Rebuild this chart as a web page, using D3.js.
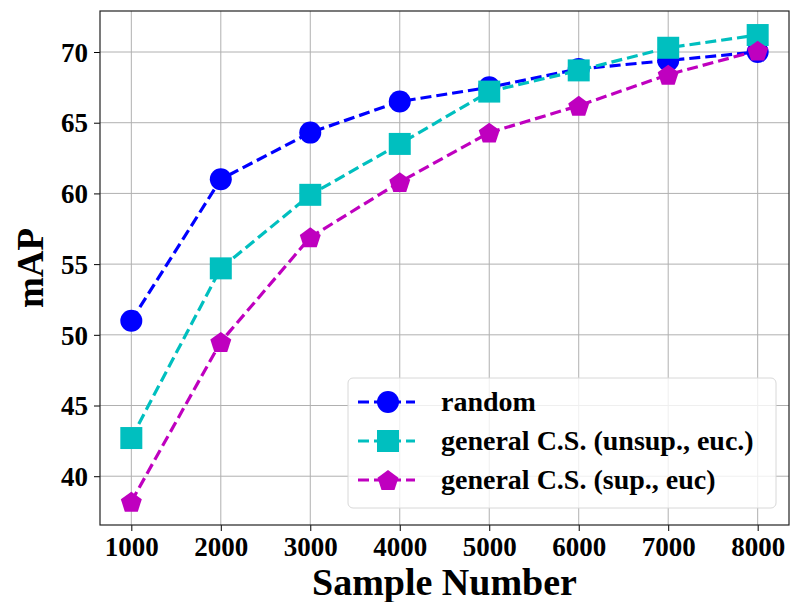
<!DOCTYPE html>
<html>
<head>
<meta charset="utf-8">
<script src="https://cdn.jsdelivr.net/npm/d3@7"></script>
<style>
  body { margin: 0; background: #fff; }
  svg text { font-family: 'Liberation Serif', 'Times New Roman', serif; font-weight: bold; }
</style>
</head>
<body>
<svg id="chart" width="791" height="602"></svg>
<script>
// sample counts on x axis
const samples = [1000, 2000, 3000, 4000, 5000, 6000, 7000, 8000]
// mAP per method
const randomMap = [51.0, 61.0, 64.3, 66.5, 67.5, 68.8, 69.4, 70.0]
const unsupMap = [42.7, 54.7, 59.9, 63.5, 67.2, 68.7, 70.3, 71.2]
const supMap = [38.2, 49.5, 56.9, 60.8, 64.3, 66.2, 68.4, 70.1]
const seriesNames = ['random', 'general C.S. (unsup., euc.)', 'general C.S. (sup., euc)']
const yTicks = [40, 45, 50, 55, 60, 65, 70]

const series = [
  {name: seriesNames[0], values: randomMap, color: '#0000ff', marker: 'circle'},
  {name: seriesNames[1], values: unsupMap, color: '#00bfbf', marker: 'square'},
  {name: seriesNames[2], values: supMap, color: '#bf00bf', marker: 'pentagon'}
]

const svg = d3.select('#chart')
const margin = {top: 11, right: 2, bottom: 77, left: 100}
const width = 791 - margin.left - margin.right
const height = 602 - margin.top - margin.bottom

const g = svg.append('g')
  .attr('transform', 'translate(' + margin.left + ',' + margin.top + ')')

// matplotlib-like 5% padding
const x = d3.scaleLinear().domain([650, 8350]).range([0, width])
const y = d3.scaleLinear().domain([36.55, 72.9]).range([height, 0])

// grid
g.append('g')
  .selectAll('line')
  .data(samples)
  .join('line')
    .attr('x1', d => x(d)).attr('x2', d => x(d))
    .attr('y1', 0).attr('y2', height)
    .attr('stroke', '#b0b0b0').attr('stroke-width', 1)
g.append('g')
  .selectAll('line')
  .data(yTicks)
  .join('line')
    .attr('y1', d => y(d)).attr('y2', d => y(d))
    .attr('x1', 0).attr('x2', width)
    .attr('stroke', '#b0b0b0').attr('stroke-width', 1)

// axes
const xAxis = g.append('g')
  .attr('transform', 'translate(0,' + height + ')')
  .call(d3.axisBottom(x).tickValues(samples).tickFormat(d3.format('d')).tickSize(6).tickPadding(6))
xAxis.select('.domain').remove()
xAxis.selectAll('text').style('font-size', '27px').attr('fill', '#000')

const yAxis = g.append('g')
  .call(d3.axisLeft(y).tickValues(yTicks).tickSize(6).tickPadding(6))
yAxis.select('.domain').remove()
yAxis.selectAll('text').style('font-size', '27px').attr('fill', '#000')
  .attr('dy', '0.34em')

// frame
g.append('rect')
  .attr('width', width).attr('height', height)
  .attr('fill', 'none').attr('stroke', '#222').attr('stroke-width', 1.2)

// axis titles
svg.append('text')
  .attr('x', margin.left + width / 2).attr('y', 595)
  .attr('text-anchor', 'middle')
  .style('font-size', '38px')
  .text('Sample Number')
svg.append('text')
  .attr('transform', 'translate(43,' + (margin.top + height / 2) + ') rotate(-90)')
  .attr('text-anchor', 'middle')
  .style('font-size', '37px')
  .text('mAP')

function markerPath (type, s) {
  if (type === 'circle') return d3.symbol(d3.symbolCircle, s * s * Math.PI / 4)()
  if (type === 'square') return d3.symbol(d3.symbolSquare, s * s)()
  // pentagon pointing up
  const r = s * 0.58
  const pts = d3.range(5).map(i => {
    const a = -Math.PI / 2 + i * 2 * Math.PI / 5
    return [r * Math.cos(a), r * Math.sin(a) + r * 0.1]
  })
  return 'M' + pts.map(p => p.join(',')).join('L') + 'Z'
}
const markerSize = {circle: 22, square: 22, pentagon: 19}

const line = d3.line()
  .x((d, i) => x(samples[i]))
  .y(d => y(d))

series.forEach(s => {
  g.append('path')
    .datum(s.values)
    .attr('fill', 'none')
    .attr('stroke', s.color)
    .attr('stroke-width', 3.2)
    .attr('stroke-dasharray', '11,5')
    .attr('d', line)
  g.append('g')
    .selectAll('path')
    .data(s.values)
    .join('path')
      .attr('transform', (d, i) => 'translate(' + x(samples[i]) + ',' + y(d) + ')')
      .attr('d', markerPath(s.marker, markerSize[s.marker]))
      .attr('fill', s.color)
})

// legend
const legend = svg.append('g').attr('transform', 'translate(348,378)')
legend.append('rect')
  .attr('width', 428).attr('height', 130).attr('rx', 5)
  .attr('fill', '#fff').attr('fill-opacity', 0.8)
  .attr('stroke', '#d8d8d8').attr('stroke-width', 1)
series.forEach((s, i) => {
  const row = legend.append('g').attr('transform', 'translate(0,' + (24 + i * 39) + ')')
  row.append('line')
    .attr('x1', 10).attr('x2', 67)
    .attr('stroke', s.color).attr('stroke-width', 3.2)
    .attr('stroke-dasharray', '11,5')
  row.append('path')
    .attr('transform', 'translate(40,0)')
    .attr('d', markerPath(s.marker, markerSize[s.marker]))
    .attr('fill', s.color)
  row.append('text')
    .attr('x', 93).attr('dy', '0.33em')
    .style('font-size', '28px')
    .text(s.name)
})
</script>
</body>
</html>
